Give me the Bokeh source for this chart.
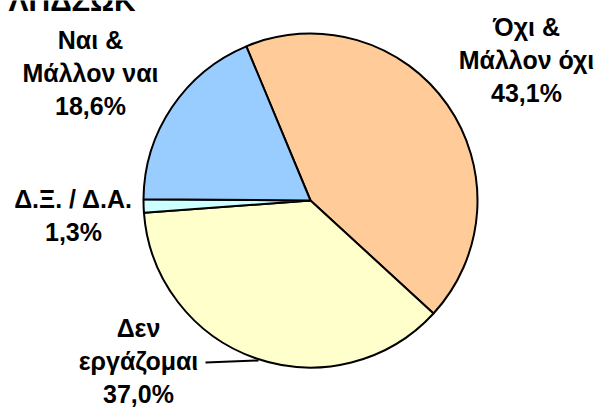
import math
from bokeh.plotting import figure
from bokeh.models import Range1d, ColumnDataSource
from bokeh.core.properties import value
from bokeh.embed import file_html
from bokeh.resources import INLINE

# ---- data ----
categories = ["Όχι &\nΜάλλον όχι", "Δεν\nεργάζομαι", "Δ.Ξ. / Δ.Α.", "Ναι &\nΜάλλον ναι"]
values = [43.1, 37.0, 1.3, 18.6]
colors = ["#FFCC99", "#FFFFCC", "#CCFFFF", "#99CCFF"]
title_text = "ΛΠΔΖΩΚ"

# ---- layout (image pixel coordinates, y measured from top) ----
W, H = 605, 408
cx, cy, R = 310, 200, 167
start_deg = 112.6
text_shift = 8
label_pos = [(526, 100), (138, 401), (73, 239), (90, 113)]  # centre x, baseline of last line
line_gap = 33
FONT = "Liberation Sans"

def Y(y):
    return H - y

p = figure(width=W, height=H, output_backend="svg", toolbar_location=None,
           x_range=Range1d(0, W), y_range=Range1d(0, H),
           min_border=0, min_border_left=0, min_border_right=0,
           min_border_top=0, min_border_bottom=0,
           margin=(0, 0, 0, 0))
p.axis.visible = False
p.grid.visible = False
p.outline_line_color = None
p.background_fill_color = "white"
p.border_fill_color = "white"

total = sum(values)
starts, ends = [], []
a = math.radians(start_deg)
for v in values:
    b = a - v / total * 2 * math.pi
    starts.append(b)
    ends.append(a)
    a = b

src = ColumnDataSource(dict(start=starts, end=ends, color=colors))
p.wedge(x=cx, y=Y(cy), radius=R, start_angle="start", end_angle="end",
        fill_color="color", line_color="black", line_width=2, source=src)

# leader line for "Δεν εργάζομαι"
p.line(x=[205, 258], y=[Y(362), Y(360)], line_color="black", line_width=2)

# labels
xs, ys, ts = [], [], []
for cat, v, (lx, ly) in zip(categories, values, label_pos):
    pct = f"{v:.1f}%".replace(".", ",")
    lines = cat.split("\n") + [pct]
    n = len(lines)
    for i, t in enumerate(lines):
        xs.append(lx)
        ys.append(Y(ly - text_shift - (n - 1 - i) * line_gap))
        ts.append(t)
p.text(x=xs, y=ys, text=ts, text_font=value(FONT), text_font_style="bold",
       text_font_size="25px", text_align="center", text_baseline="alphabetic",
       text_color="black")

# cut-off title at the very top
p.text(x=[8], y=[Y(8 - text_shift)], text=[title_text], text_font=value(FONT), text_font_style="bold",
       text_font_size="30px", text_align="left", text_baseline="alphabetic",
       text_color="black")

open("out.html", "w").write(file_html(p, INLINE))
